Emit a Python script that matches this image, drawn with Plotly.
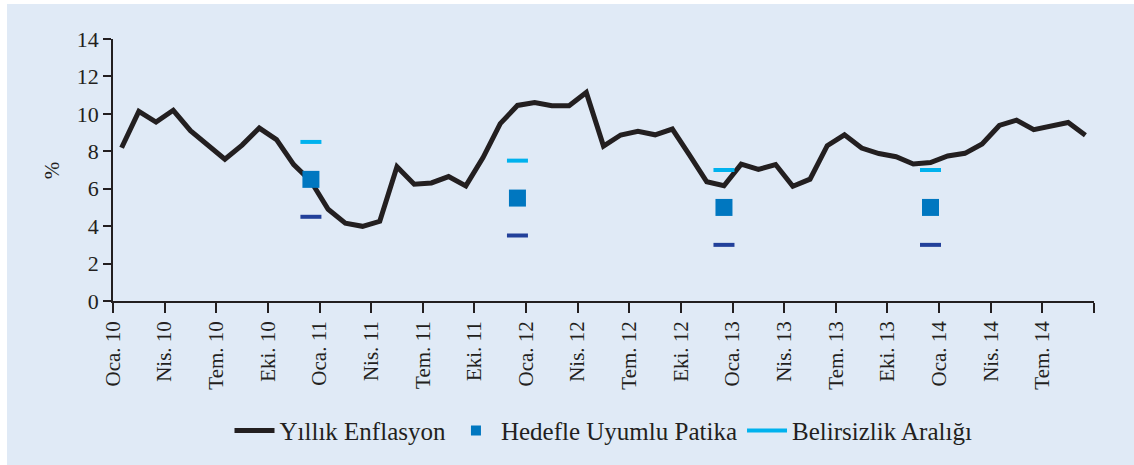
import pandas as pd
import plotly.graph_objects as go

# ---------------- data ----------------
months = [d.strftime("%Y-%m") for d in pd.date_range("2010-01-01", "2014-09-01", freq="MS")]

inflation = [
    8.19, 10.13, 9.56, 10.19, 9.10, 8.37, 7.58, 8.33, 9.24, 8.62, 7.29, 6.40,
    4.90, 4.16, 3.99, 4.26, 7.17, 6.24, 6.31, 6.65, 6.15, 7.66, 9.48, 10.45,
    10.61, 10.43, 10.43, 11.14, 8.28, 8.87, 9.07, 8.88, 9.19, 7.80, 6.37, 6.16,
    7.31, 7.03, 7.29, 6.13, 6.51, 8.30, 8.88, 8.17, 7.88, 7.71, 7.32, 7.40,
    7.75, 7.89, 8.39, 9.38, 9.66, 9.16, 9.32, 9.54, 8.86,
]

target_months = ["2010-12", "2011-12", "2012-12", "2013-12"]
target_path = [6.5, 5.5, 5.0, 5.0]
band_upper = [8.5, 7.5, 7.0, 7.0]
band_lower = [4.5, 3.5, 3.0, 3.0]

tick_labels = ["Oca. 10", "Nis. 10", "Tem. 10", "Eki. 10",
               "Oca. 11", "Nis. 11", "Tem. 11", "Eki. 11",
               "Oca. 12", "Nis. 12", "Tem. 12", "Eki. 12",
               "Oca. 13", "Nis. 13", "Tem. 13", "Eki. 13",
               "Oca. 14", "Nis. 14", "Tem. 14", ""]

# ---------------- styling ----------------
BG = "#E0EAF6"
INK = "#231F20"
SQUARE = "#0077C0"
CYAN = "#00B2EE"
NAVY = "#22409A"
FONT = "'Liberation Serif', 'DejaVu Serif', serif"

x_line = [i + 0.5 for i in range(len(months))]
x_target = [months.index(m) + 0.5 for m in target_months]
tick_vals = list(range(0, len(months) + 1, 3))

fig = go.Figure()

fig.add_trace(go.Scatter(
    x=x_line, y=inflation, mode="lines", name="Yıllık Enflasyon",
    line=dict(color=INK, width=5),
))
fig.add_trace(go.Scatter(
    x=x_target, y=target_path, mode="markers", name="Hedefle Uyumlu Patika",
    showlegend=False, legendgroup="target",
    marker=dict(symbol="square", size=17, color=SQUARE),
))
fig.add_trace(go.Scatter(
    x=[None], y=[None], mode="markers", name="Hedefle Uyumlu Patika",
    legendgroup="target",
    marker=dict(symbol="square", size=10, color=SQUARE),
))
fig.add_trace(go.Scatter(
    x=x_target, y=band_upper, mode="markers", name="Belirsizlik Aralığı",
    showlegend=False, legendgroup="band",
    marker=dict(symbol="line-ew", size=15, color=CYAN,
                line=dict(color=CYAN, width=4)),
))
fig.add_trace(go.Scatter(
    x=x_target, y=band_lower, mode="markers", name="Belirsizlik Aralığı",
    showlegend=False, legendgroup="band",
    marker=dict(symbol="line-ew", size=15, color=NAVY,
                line=dict(color=NAVY, width=4)),
))
fig.add_trace(go.Scatter(
    x=[None], y=[None], mode="lines", name="Belirsizlik Aralığı",
    legendgroup="band", line=dict(color=CYAN, width=4),
))

fig.update_layout(
    width=1127, height=461,
    paper_bgcolor=BG, plot_bgcolor=BG,
    margin=dict(l=106, r=40, t=35, b=163),
    font=dict(family=FONT, size=20, color=INK),
    showlegend=True,
    legend=dict(orientation="h", x=0.5, xanchor="center", y=-0.49, yanchor="middle",
                font=dict(family=FONT, size=25, color=INK), bgcolor="rgba(0,0,0,0)",
                itemwidth=40, tracegroupgap=0),
    xaxis=dict(
        range=[0, len(months)], tickmode="array", tickvals=tick_vals, ticktext=tick_labels,
        tickangle=-90, ticks="outside", ticklen=10, tickwidth=1.5, tickcolor=INK,
        showline=True, linecolor=INK, linewidth=1.5, showgrid=False, zeroline=False,
        tickfont=dict(family=FONT, size=21, color=INK),
    ),
    yaxis=dict(
        range=[0, 14], tickmode="array", tickvals=list(range(0, 15, 2)),
        ticks="outside", ticklen=8, tickwidth=1.5, tickcolor=INK,
        showline=True, linecolor=INK, linewidth=1.5, showgrid=False, zeroline=False,
        tickfont=dict(family=FONT, size=22, color=INK),
    ),
    annotations=[dict(
        text="%", xref="paper", yref="paper", x=-0.062, y=0.5,
        showarrow=False, textangle=-90, font=dict(family=FONT, size=21, color=INK),
        xanchor="center", yanchor="middle",
    )],
)

fig.write_html(
    "out.html",
    post_script="document.body.style.margin='4px 0 0 7px';document.body.style.overflow='hidden';",
)
